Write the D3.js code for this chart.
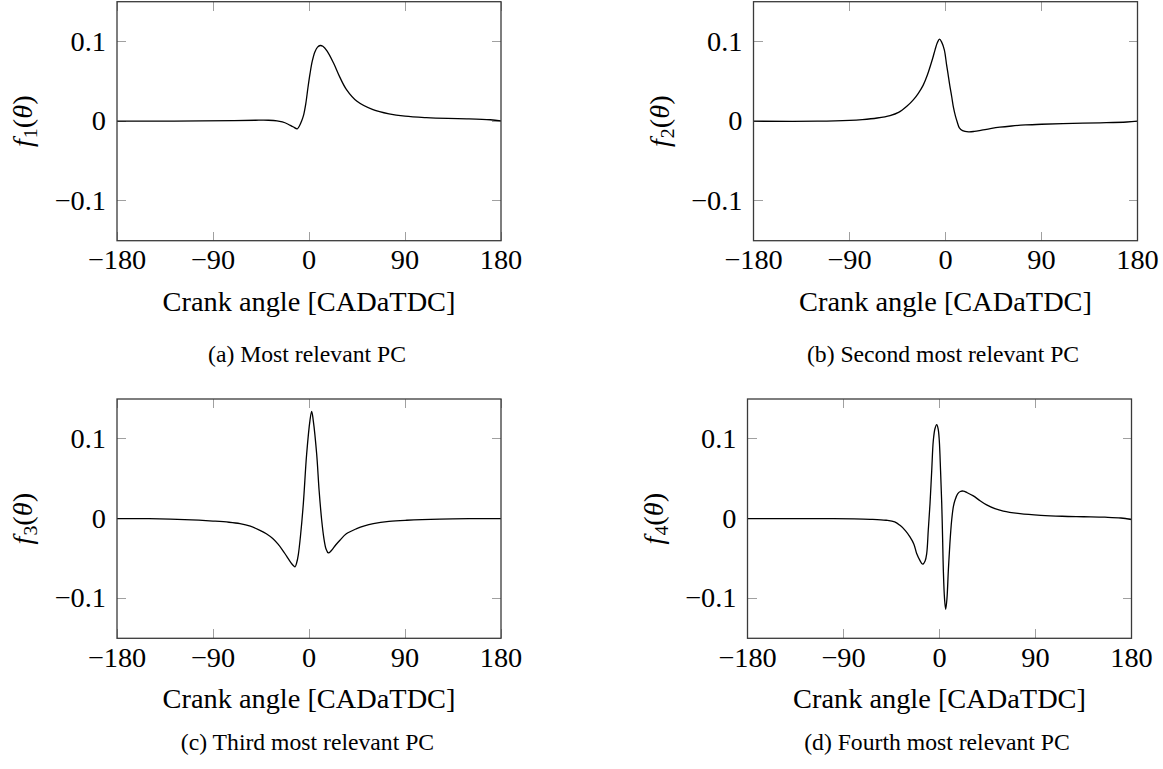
<!DOCTYPE html>
<html>
<head>
<meta charset="utf-8">
<script src="https://cdnjs.cloudflare.com/ajax/libs/d3/7.8.5/d3.min.js"></script>
<style>
  html, body { margin: 0; padding: 0; background: #fff; }
  svg { display: block; }
</style>
</head>
<body>
<svg id="chart" width="1163" height="769"></svg>
<script>
// ---------- data ----------
const xTicks = [-180, -90, 0, 90, 180];
const yTicks = [-0.1, 0, 0.1];
const xDomain = [-180, 180];
const yDomain = [-0.15, 0.15];
const xLabel = "Crank angle [CADaTDC]";
const captions = ["(a) Most relevant PC", "(b) Second most relevant PC",
                  "(c) Third most relevant PC", "(d) Fourth most relevant PC"];
const yLabelIndex = ["1", "2", "3", "4"];

const f1Angles = [-180, -140, -100, -70, -50, -38, -30, -25, -20, -15, -11, -9, -7, -5, -3, -1, 1, 3, 5.5, 8, 10.5, 13, 17, 23, 29, 35, 45, 60, 75, 90, 110, 130, 150, 170, 180];
const f1Values = [0, 0, 0.0003, 0.0008, 0.0012, 0.0012, 0.0005, -0.001, -0.0035, -0.007, -0.0095, -0.006, 0.0, 0.008, 0.022, 0.042, 0.06, 0.075, 0.087, 0.093, 0.095, 0.094, 0.088, 0.073, 0.055, 0.04, 0.025, 0.0145, 0.0092, 0.0063, 0.0045, 0.0035, 0.003, 0.0018, 0.0003];

const f2Angles = [-180, -120, -90, -78, -64, -52, -44, -36, -30, -25.5, -21, -17, -12, -9.8, -7.5, -5.6, -3.5, -1.1, 1, 2.3, 4, 5.8, 7.5, 9.4, 11, 13, 16, 21.6, 27, 34, 42, 51, 62, 75, 90, 110, 145, 170, 180];
const f2Values = [0, 0, 0.001, 0.002, 0.004, 0.007, 0.011, 0.019, 0.027, 0.035, 0.045, 0.058, 0.079, 0.0896, 0.099, 0.103, 0.099, 0.0896, 0.071, 0.06, 0.045, 0.031, 0.017, 0.006, -0.001, -0.0083, -0.0118, -0.0133, -0.0128, -0.0112, -0.0093, -0.0075, -0.006, -0.0047, -0.0038, -0.003, -0.002, -0.001, 0];

const f3Angles = [-180, -150, -130, -110, -90, -75, -64.7, -55, -46, -40, -34, -29, -25, -21, -17, -14.5, -13.1, -11.5, -10, -8, -5.3, -2.2, 0.9, 2.5, 4, 7.2, 9.5, 11.9, 14, 16, 18.1, 21, 25, 29, 35, 44.7, 52, 60.3, 75, 91.6, 122.8, 150, 180];
const f3Values = [0, 0, -0.0005, -0.0015, -0.003, -0.0045, -0.0063, -0.0095, -0.0146, -0.019, -0.025, -0.032, -0.039, -0.047, -0.055, -0.059, -0.0605, -0.055, -0.045, -0.022, 0.019, 0.081, 0.123, 0.1346, 0.123, 0.081, 0.035, -0.002, -0.025, -0.038, -0.043, -0.04, -0.033, -0.027, -0.019, -0.0125, -0.009, -0.0063, -0.0035, -0.002, -0.0005, 0, 0];

const f4Angles = [-180, -140, -112, -80, -65, -50, -42, -37, -32, -27.7, -24, -21.4, -18.5, -15.8, -13.5, -12, -10.5, -8.9, -7.3, -5.8, -4.2, -2.6, -1.2, -0.2, 1, 2.1, 3, 3.6, 4.7, 5.8, 7, 8.3, 9.8, 11.4, 13, 14.5, 17, 19.5, 22.3, 26, 31.7, 38, 44.2, 52, 59.8, 75.5, 95, 115, 135, 155, 170, 180];
const f4Values = [0, 0, 0, -0.0003, -0.0008, -0.002, -0.004, -0.0084, -0.015, -0.0229, -0.032, -0.0438, -0.052, -0.0571, -0.053, -0.0438, -0.014, 0.0187, 0.06, 0.0979, 0.113, 0.1179, 0.112, 0.0979, 0.06, 0.0187, -0.03, -0.0646, -0.1, -0.1137, -0.1, -0.0646, -0.03, -0.002, 0.015, 0.023, 0.031, 0.034, 0.0346, 0.0325, 0.0285, 0.0225, 0.0172, 0.0125, 0.0095, 0.0063, 0.0042, 0.003, 0.0024, 0.0018, 0.0008, -0.0012];

const seriesAngles = [f1Angles, f2Angles, f3Angles, f4Angles];
const seriesValues = [f1Values, f2Values, f3Values, f4Values];

// ---------- font detection ----------
const cnv = document.createElement("canvas").getContext("2d");
function widthWith(font, txt) { cnv.font = font; return cnv.measureText(txt).width; }
function hasFont(name) {
  const t = "Crank angle [CADaTDC] 0.1 −180 Wmi";
  return ["monospace", "sans-serif"].some(fb =>
    Math.abs(widthWith(`100px "${name}", ${fb}`, t) - widthWith(`100px ${fb}`, t)) > 0.5);
}
const candidates = ["Liberation Serif", "Tinos", "Times New Roman", "DejaVu Serif", "Noto Serif", "FreeSerif"];
const FAM = candidates.find(hasFont) || "serif";
const FAMCSS = `"${FAM}", serif`;
const axW = widthWith(`100px ${FAMCSS}`, xLabel);
const AX_FONT = Math.min(30, 100 * 293 / axW);
const capW = widthWith(`100px ${FAMCSS}`, captions[0]);
const CAP_FONT = Math.min(26, 100 * 198 / capW);

// ---------- layout ----------
const panels = [
  { x0: 117,   x1: 501,    y0: 1.7, y1: 240.7, capX: 307, capY: 361.5 },
  { x0: 753.5, x1: 1137.5, y0: 1.7, y1: 240.7, capX: 943, capY: 361.5 },
  { x0: 117,   x1: 501,    y0: 399, y1: 638.3, capX: 307.5, capY: 750 },
  { x0: 747.5, x1: 1131.5, y0: 399, y1: 638.3, capX: 937, capY: 750 }
];

const svg = d3.select("#chart");
svg.style("font-family", FAMCSS);
const fmtX = d3.format("d");
const fmtY = v => v === 0 ? "0" : d3.format(".1f")(v);
const TICK_LEN = 9;

panels.forEach((p, i) => {
  const x = d3.scaleLinear().domain(xDomain).range([p.x0, p.x1]);
  const y = d3.scaleLinear().domain(yDomain).range([p.y1, p.y0]);
  const g = svg.append("g");

  const tickStyle = s => s.attr("stroke", "#a0a0a0").attr("stroke-width", 1).attr("shape-rendering", "crispEdges");
  g.selectAll(".xtb").data(xTicks).enter().append("line")
    .attr("x1", d => x(d)).attr("x2", d => x(d))
    .attr("y1", p.y1).attr("y2", p.y1 - TICK_LEN).call(tickStyle);
  g.selectAll(".xtt").data(xTicks).enter().append("line")
    .attr("x1", d => x(d)).attr("x2", d => x(d))
    .attr("y1", p.y0).attr("y2", p.y0 + TICK_LEN).call(tickStyle);
  g.selectAll(".ytl").data(yTicks).enter().append("line")
    .attr("x1", p.x0).attr("x2", p.x0 + TICK_LEN)
    .attr("y1", d => y(d)).attr("y2", d => y(d)).call(tickStyle);
  g.selectAll(".ytr").data(yTicks).enter().append("line")
    .attr("x1", p.x1).attr("x2", p.x1 - TICK_LEN)
    .attr("y1", d => y(d)).attr("y2", d => y(d)).call(tickStyle);

  const pts = seriesAngles[i].map((a, k) => [a, seriesValues[i][k]]);
  const line = d3.line().x(d => x(d[0])).y(d => y(d[1])).curve(d3.curveCatmullRom.alpha(0.5));
  g.append("path").datum(pts)
    .attr("d", line)
    .attr("fill", "none").attr("stroke", "#000").attr("stroke-width", 1.3)
    .attr("stroke-linejoin", "round");

  g.append("rect")
    .attr("x", p.x0).attr("y", p.y0)
    .attr("width", p.x1 - p.x0).attr("height", p.y1 - p.y0)
    .attr("fill", "none").attr("stroke", "#3a3a3a").attr("stroke-width", 1.3);

  g.selectAll(".xl").data(xTicks).enter().append("text")
    .attr("x", d => x(d)).attr("y", p.y1 + 28.5)
    .attr("text-anchor", "middle").attr("font-size", AX_FONT)
    .text(d => fmtX(d));
  g.selectAll(".yl").data(yTicks).enter().append("text")
    .attr("x", p.x0 - 11).attr("y", d => y(d) + 0.32 * AX_FONT)
    .attr("text-anchor", "end").attr("font-size", AX_FONT)
    .text(d => fmtY(d));

  g.append("text")
    .attr("x", (p.x0 + p.x1) / 2).attr("y", p.y1 + 70)
    .attr("text-anchor", "middle").attr("font-size", AX_FONT)
    .text(xLabel);

  const cy = (p.y0 + p.y1) / 2;
  const yl = g.append("text")
    .attr("transform", `translate(${p.x0 - 85},${cy}) rotate(-90)`)
    .attr("text-anchor", "middle").attr("font-size", AX_FONT);
  yl.append("tspan").attr("font-style", "italic").text("f");
  yl.append("tspan").attr("font-size", AX_FONT * 0.7).attr("dy", 5).attr("dx", 1).text(yLabelIndex[i]);
  yl.append("tspan").attr("dy", -5).text("(");
  yl.append("tspan").attr("font-style", "italic").text("θ");
  yl.append("tspan").text(")");

  svg.append("text")
    .attr("x", p.capX).attr("y", p.capY)
    .attr("text-anchor", "middle").attr("font-size", CAP_FONT)
    .text(captions[i]);
});
</script>
</body>
</html>
